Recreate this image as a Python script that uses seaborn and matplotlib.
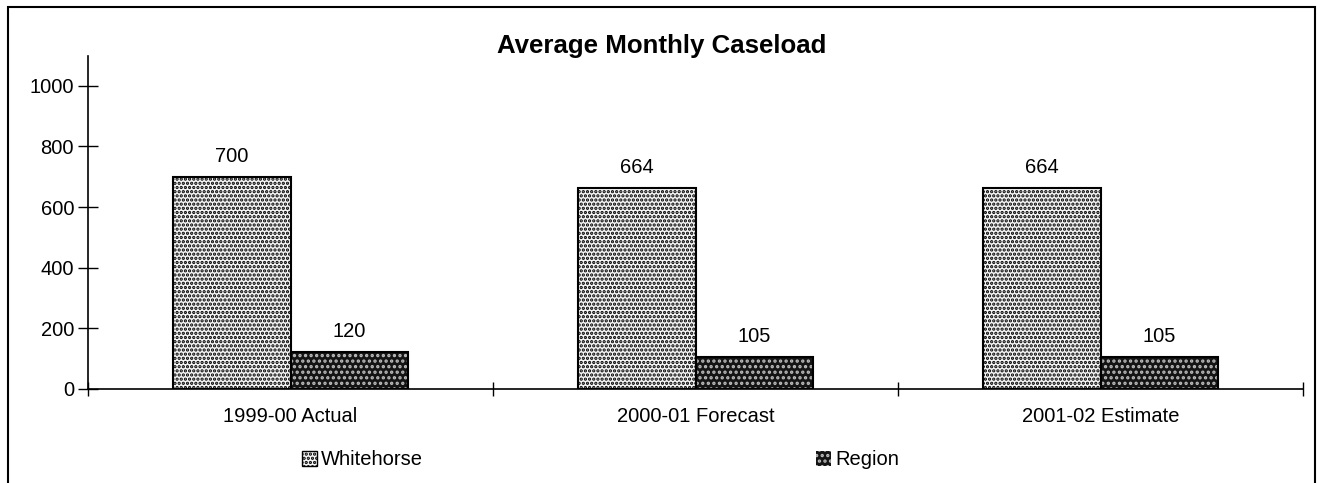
import matplotlib
matplotlib.use("Agg")
import matplotlib.pyplot as plt
import seaborn as sns
import pandas as pd
from matplotlib.patches import Rectangle, Patch

categories = ["1999-00 Actual", "2000-01 Forecast", "2001-02 Estimate"]
series = ["Whitehorse", "Region"]
whitehorse = [700, 664, 664]
region = [120, 105, 105]
yticks = [0, 200, 400, 600, 800, 1000]

df = pd.DataFrame({
    "Period": categories * 2,
    "Series": [series[0]] * 3 + [series[1]] * 3,
    "Value": whitehorse + region,
})

sns.set_theme(style="white")
plt.rcParams["font.family"] = ["Liberation Sans", "DejaVu Sans"]
plt.rcParams["text.color"] = "black"
plt.rcParams["xtick.color"] = "black"
plt.rcParams["ytick.color"] = "black"
plt.rcParams["hatch.linewidth"] = 1.6

fig = plt.figure(figsize=(13.23, 4.83), dpi=100)
ax = fig.add_axes([0.0665, 0.195, 0.9185, 0.69])

colors = {"Whitehorse": "#f4f4f4", "Region": "#141414"}
hatchcols = {"Whitehorse": "black", "Region": "#bdbdbd"}
hatches = {"Whitehorse": "....", "Region": "..."}

sns.barplot(data=df, x="Period", y="Value", hue="Series", order=categories,
            hue_order=series, palette=[colors[s] for s in series], width=0.58,
            edgecolor="black", linewidth=1.5, ax=ax, legend=False)

for container, s in zip(ax.containers, series):
    for bar in container:
        bar.set_hatch(hatches[s])
        bar.set_facecolor(colors[s])
        bar.set_edgecolor(hatchcols[s])
        if s == "Region":
            bar.set_linewidth(0)
            ax.add_patch(Rectangle(bar.get_xy(), bar.get_width(), bar.get_height(),
                                   fill=False, edgecolor="black", linewidth=1.5, zorder=bar.get_zorder() + 0.1))
    ax.bar_label(container, labels=[str(int(v)) for v in container.datavalues],
                 padding=8, fontsize=14.5, color="black")

ax.set_ylim(0, 1100)
ax.set_xlim(-0.5, 2.5)
ax.set_yticks(yticks)
ax.set_yticklabels([str(t) for t in yticks], fontsize=14.5)
ax.set_xticks(range(3))
ax.set_xticklabels(categories, fontsize=14.5)
ax.set_xticks([-0.5, 0.5, 1.5, 2.5], minor=True)
ax.tick_params(axis="x", which="major", length=0, pad=13)
ax.tick_params(axis="x", which="minor", direction="inout", length=10, width=1, color="black", bottom=True)
ax.tick_params(axis="y", direction="inout", length=14, width=1, color="black", left=True, pad=3)
ax.set_xlabel("")
ax.set_ylabel("")
for side in ["top", "right"]:
    ax.spines[side].set_visible(False)
for side in ["left", "bottom"]:
    ax.spines[side].set_color("black")
    ax.spines[side].set_linewidth(1.2)
    ax.spines[side].set_zorder(5)

fig.text(0.5005, 0.905, "Average Monthly Caseload", ha="center", va="center",
         fontsize=18.6, fontweight="bold", color="black")

handles = [
    Patch(facecolor=colors["Whitehorse"], edgecolor="black", hatch=hatches["Whitehorse"], linewidth=1),
    Patch(facecolor=colors["Region"], edgecolor=hatchcols["Region"], hatch=hatches["Region"], linewidth=0),
]
fig.legend(handles, series, loc="center", bbox_to_anchor=(0.454, 0.048), ncol=2,
           frameon=False, fontsize=14.5, handlelength=0.75, handleheight=0.75,
           handletextpad=0.2, columnspacing=19.5)

fig.patches.append(Rectangle((0.006, -0.01), 0.988, 0.995, transform=fig.transFigure,
                             fill=False, edgecolor="black", linewidth=1.5))

fig.savefig("out.png", dpi=100, facecolor="white")
